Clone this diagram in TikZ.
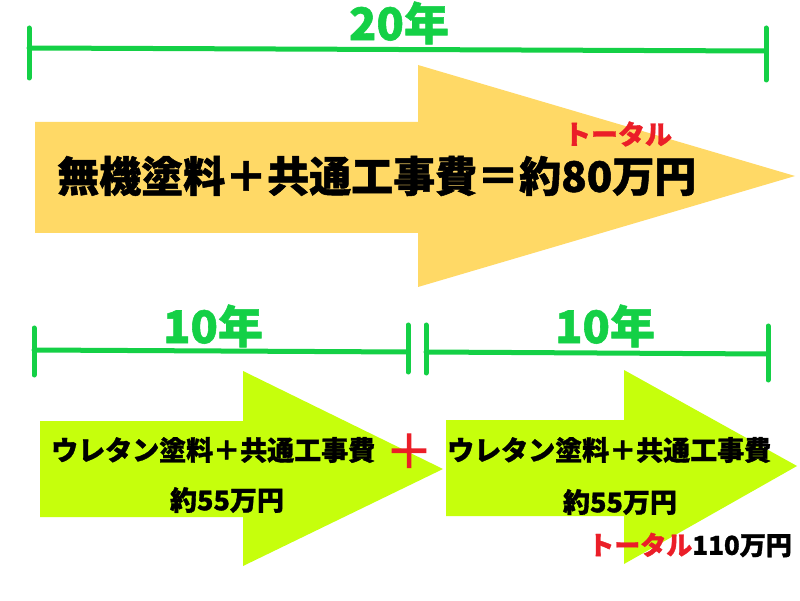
\documentclass[tikz,border=0pt]{standalone}
\usepackage{fontspec}
\setmainfont{Noto Sans CJK JP}[BoldFeatures={FakeBold=1.2}]
\definecolor{barg}{RGB}{20,208,70}
\definecolor{yel}{RGB}{255,217,102}
\definecolor{limec}{RGB}{198,255,12}
\definecolor{redc}{RGB}{235,30,40}
\begin{document}
\begin{tikzpicture}[x=1pt,y=-1pt,
  bar/.style={draw=barg, line width=5pt, line cap=round},
  yr/.style={text=barg, font=\bfseries\fontsize{45}{45}\selectfont, inner sep=0pt},
  big/.style={font=\bfseries\fontsize{42}{42}\selectfont, inner sep=0pt},
  mid/.style={font=\bfseries\fontsize{27}{27}\selectfont, inner sep=0pt},
  redt/.style={text=redc, font=\bfseries\fontsize{27}{27}\selectfont, inner sep=0pt}]
\useasboundingbox (0,0) rectangle (800,601);
\fill[white] (0,0) rectangle (800,601);
% top 20-year bar
\coordinate (tl) at (29,48);
\coordinate (tr) at (766,51);
\draw[bar] (29,28) -- (29,78);
\draw[bar] (766,28) -- (766,80);
\draw[bar] (tl) -- (tr);
\node[yr] (y20) at (399,23) {20年};
% yellow arrow
\fill[yel] (35,122) -- (418,122) -- (418,65) -- (795,176) -- (418,287) -- (418,233) -- (35,233) -- cycle;
\node[big, anchor=west] (main) at (57,176) {無機塗料＋共通工事費＝約80万円};
\node[redt] (tot1) at (618,134) {トータル};
% bottom bars
\draw[bar] (34,328) -- (34,375);
\draw[bar] (34,350) -- (408,352);
\draw[bar] (408,325) -- (408,372);
\draw[bar] (426,325) -- (426,373);
\draw[bar] (426,352) -- (768,354);
\draw[bar] (768,326) -- (768,380);
\node[yr] (y10a) at (213,326) {10年};
\node[yr] (y10b) at (605,326) {10年};
% lime arrows
\fill[limec] (40,421) -- (243,421) -- (243,371) -- (443,469) -- (243,566) -- (243,517) -- (40,517) -- cycle;
\fill[limec] (446,420) -- (624,420) -- (624,370) -- (797,466) -- (624,564) -- (624,516) -- (446,516) -- cycle;
\node[mid, anchor=west] (ua) at (51,450) {ウレタン塗料＋共通工事費};
\node[mid] (pa) at (227,500) {約55万円};
\node[mid, anchor=west] (ub) at (447,450) {ウレタン塗料＋共通工事費};
\node[mid] (pb) at (620,502) {約55万円};
\node[text=redc, font=\mdseries\fontsize{46}{46}\selectfont\addfontfeature{FakeBold=3}, inner sep=0pt] (plus) at (409,451) {＋};
\node[mid, anchor=east, font=\bfseries\fontsize{26}{26}\selectfont] (tot2) at (792,545) {\textcolor{redc}{トータル}110万円};
\end{tikzpicture}
\end{document}
